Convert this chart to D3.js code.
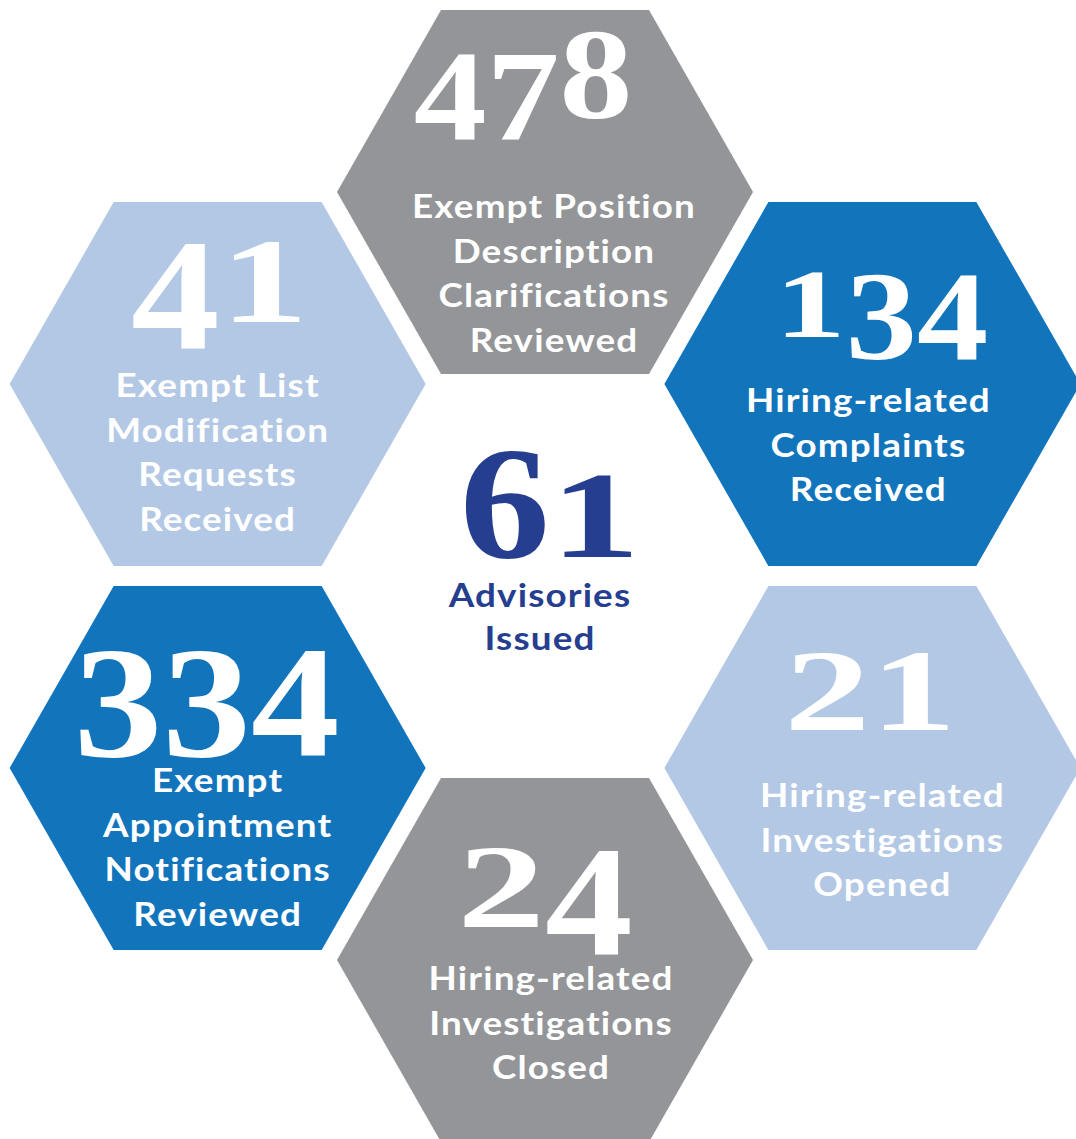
<!DOCTYPE html>
<html>
<head>
<meta charset="utf-8">
<script src="https://cdn.jsdelivr.net/npm/d3@7"></script>
<style>
  body { margin: 0; background: #fff; }
  svg { display: block; }
</style>
</head>
<body>
<div id="chart"></div>
<script>
// values, clockwise from the top hexagon
var values = [478, 134, 21, 24, 334, 41];
var labels = [
  ["Exempt Position", "Description", "Clarifications", "Reviewed"],
  ["Hiring-related", "Complaints", "Received"],
  ["Hiring-related", "Investigations", "Opened"],
  ["Hiring-related", "Investigations", "Closed"],
  ["Exempt", "Appointment", "Notifications", "Reviewed"],
  ["Exempt List", "Modification", "Requests", "Received"]
];
var tones = ["gray", "blue", "light", "gray", "blue", "light"];
var centerValue = 61;
var centerLabel = ["Advisories", "Issued"];

// layout (not data)
var w = 1076, h = 1139;
var cx = 545, cy = 576;
var ringX = 378, ringY = 384;
var hexR = 208, hexH = 182;
var numH   = [88, 86, 104, 106, 107, 107];
var numDx  = [-22, 9, -2, 0, -11, 2];
var numDy  = [-74, -47, -38, -33, -39, -62];
var labDx  = [9, -4, 10, 6, 0, 0];
var labDy  = [26, 28, 39, 30, 24, 13];
var lineGap = 44.7;
var labSX = 1.15;

var color = d3.scaleOrdinal()
  .domain(["gray", "blue", "light"])
  .range(["#939598", "#1275bc", "#b3c8e5"]);

var angle = d3.scaleLinear().domain([0, 6]).range([-Math.PI / 2, Math.PI * 1.5]);

var svg = d3.select("#chart").append("svg")
  .attr("width", w)
  .attr("height", h);

svg.append("rect").attr("width", w).attr("height", h).attr("fill", "#fff");

var hexPoints = d3.range(6).map(function(k) {
  var a = k * Math.PI / 3;
  return [hexR * Math.cos(a), hexH * Math.sin(a) / Math.sin(Math.PI / 3)];
});

var nodes = values.map(function(v, i) {
  return {
    value: v,
    label: labels[i],
    tone: tones[i],
    x: cx + ringX * Math.cos(angle(i)),
    y: cy + ringY * Math.sin(angle(i)),
    i: i
  };
});

var g = svg.selectAll("g.hex")
  .data(nodes)
  .enter()
  .append("g")
  .attr("class", "hex")
  .attr("transform", function(d) { return "translate(" + d.x + "," + d.y + ")"; });

g.append("path")
  .attr("d", d3.line()(hexPoints) + "Z")
  .attr("fill", function(d) { return color(d.tone); });

// old-style looking figures: 0,1,2 short, 3,4,5,7,9 drop below baseline
var SX = 1.12;
function drawNumber(sel, value, x, base, H, fill) {
  var S = H / 0.676;
  var digits = String(value).split("");
  var adv = 0.5 * S * SX;
  var x0 = x - adv * digits.length / 2 + adv / 2;
  sel.selectAll("text.num")
    .data(digits)
    .enter()
    .append("text")
    .attr("class", "num")
    .attr("text-anchor", "middle")
    .attr("font-family", "'Liberation Serif', serif")
    .attr("font-weight", 700)
    .attr("font-size", S)
    .attr("fill", fill)
    .attr("transform", function(c, k) {
      var short = "012".indexOf(c) >= 0;
      var drop = "34579".indexOf(c) >= 0 ? 0.25 * H : 0;
      return "translate(" + (x0 + k * adv) + "," + (base + drop) + ") scale(" + SX + "," + (short ? 0.76 : 1) + ")";
    })
    .text(function(c) { return c; });
}

function drawLines(sel, lines, x, y0, gap, fill) {
  sel.selectAll("text.lab")
    .data(lines)
    .enter()
    .append("text")
    .attr("class", "lab")
    .attr("text-anchor", "middle")
    .attr("transform", function(t, k) {
      return "translate(" + x + "," + (y0 + k * gap) + ") scale(" + labSX + ",1)";
    })
    .attr("font-family", "Lato, sans-serif")
    .attr("font-weight", 700)
    .attr("font-size", 32)
    .attr("letter-spacing", 1)
    .attr("fill", fill)
    .text(function(t) { return t; });
}

g.each(function(d) {
  var el = d3.select(this);
  drawNumber(el, d.value, numDx[d.i], numDy[d.i], numH[d.i], "#fff");
  drawLines(el, d.label, labDx[d.i], labDy[d.i], lineGap, "#fff");
});

var mid = svg.append("g").attr("transform", "translate(" + cx + "," + cy + ")");
drawNumber(mid, centerValue, 5, -19, 109, "#263e8f");
drawLines(mid, centerLabel, -5, 31, 43, "#263e8f");
</script>
</body>
</html>
